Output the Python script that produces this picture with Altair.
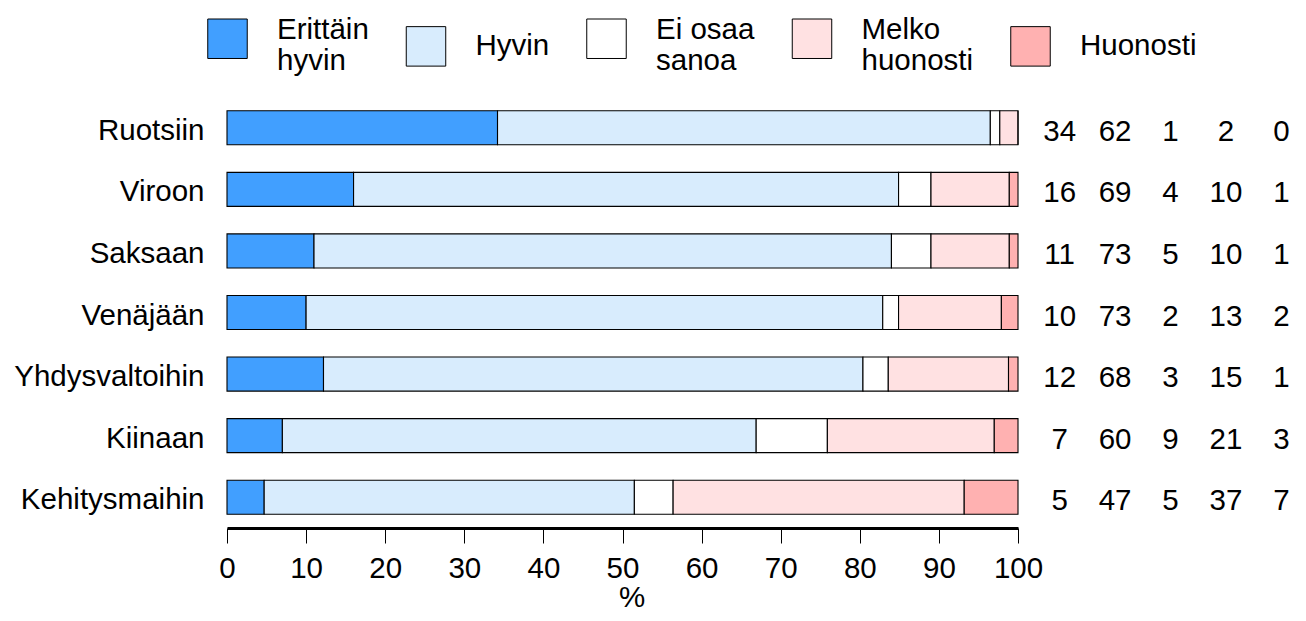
import altair as alt
import pandas as pd

categories = ["Ruotsiin", "Viroon", "Saksaan", "Venäjään", "Yhdysvaltoihin", "Kiinaan", "Kehitysmaihin"]
segments = ["Erittäin\nhyvin", "Hyvin", "Ei osaa\nsanoa", "Melko\nhuonosti", "Huonosti"]
colors = ["#419FFF", "#D8ECFD", "#FFFFFF", "#FFE1E2", "#FFB1B1"]

# bar lengths (%)
erittain_hyvin = [34.2, 16.0, 11.0, 10.0, 12.2, 7.0, 4.7]
hyvin = [62.3, 68.9, 73.0, 72.9, 68.2, 59.9, 46.8]
ei_osaa_sanoa = [1.2, 4.1, 5.0, 2.0, 3.2, 9.0, 4.9]
melko_huonosti = [2.3, 9.9, 9.9, 13.0, 15.2, 21.1, 36.8]
huonosti = [0.0, 1.1, 1.1, 2.1, 1.2, 3.0, 6.8]

# printed (rounded) numbers on the right
lab_erittain_hyvin = [34, 16, 11, 10, 12, 7, 5]
lab_hyvin = [62, 69, 73, 73, 68, 60, 47]
lab_ei_osaa_sanoa = [1, 4, 5, 2, 3, 9, 5]
lab_melko_huonosti = [2, 10, 10, 13, 15, 21, 37]
lab_huonosti = [0, 1, 1, 2, 1, 3, 7]

x_ticks = [0, 10, 20, 30, 40, 50, 60, 70, 80, 90, 100]

series = [erittain_hyvin, hyvin, ei_osaa_sanoa, melko_huonosti, huonosti]
labels = [lab_erittain_hyvin, lab_hyvin, lab_ei_osaa_sanoa, lab_melko_huonosti, lab_huonosti]

rows = []
for si, (seg, vals, labs) in enumerate(zip(segments, series, labels)):
    for ci, cat in enumerate(categories):
        rows.append({"cat": cat, "seg": seg, "idx": si, "value": vals[ci], "label": labs[ci]})
df = pd.DataFrame(rows)

FONT = "Liberation Sans"
FS = 29.5

yscale = alt.Scale(domain=categories, paddingInner=0.447, paddingOuter=0.2235)

bars = alt.Chart(df).mark_bar(stroke="black", strokeWidth=1.1, opacity=1).encode(
    x=alt.X("value:Q", stack="zero",
            scale=alt.Scale(domain=[0, 100], nice=False, zero=True),
            axis=alt.Axis(values=x_ticks, title="%", grid=False, labelFlush=False,
                          domainWidth=3, domainColor="black", tickColor="black",
                          tickWidth=1, tickSize=15, labelFontSize=FS, labelPadding=11,
                          labelColor="black", labelFont=FONT, titleFont=FONT,
                          titleFontSize=FS, titleFontWeight="normal", titleColor="black",
                          titlePadding=1, titleX=404.5)),
    y=alt.Y("cat:N", sort=categories, scale=yscale, title=None,
            axis=alt.Axis(domain=False, ticks=False, labelFontSize=FS, labelPadding=23,
                          labelColor="black", labelFont=FONT, labelLimit=400,
                          labelOffset=3)),
    color=alt.Color("seg:N", sort=segments,
                    scale=alt.Scale(domain=segments, range=colors),
                    legend=alt.Legend(orient="none", legendX=-20, legendY=-79,
                                      direction="horizontal", columns=5, title=None,
                                      symbolType="square", symbolSize=1560,
                                      symbolStrokeColor="black", symbolStrokeWidth=1,
                                      symbolOpacity=1, labelFontSize=FS, labelFont=FONT,
                                      labelColor="black", labelOffset=29, columnPadding=34.5,
                                      labelLimit=400, padding=0,
                                      labelBaseline={"expr": "indexof(datum.label, '\\n') >= 0 ? 'alphabetic' : 'middle'"},
                                      labelExpr="split(datum.label, '\\n')")),
    order=alt.Order("idx:Q"),
).properties(width=791, height=431)

nums = alt.Chart(df).mark_text(fontSize=FS, font=FONT, color="black",
                               align="center", baseline="middle", dy=4).encode(
    x=alt.X("seg:N", sort=segments, scale=alt.Scale(type="point", padding=0.3), axis=None),
    y=alt.Y("cat:N", sort=categories, scale=yscale, axis=None),
    text=alt.Text("label:Q"),
).properties(width=255, height=431)

chart = alt.hconcat(bars, nums, spacing=0).properties(
    padding={"left": 5, "top": 10, "right": 0, "bottom": 0}
).configure(font=FONT).configure_view(stroke=None)

chart.save("out.html", embed_options={"renderer": "svg", "actions": False})
